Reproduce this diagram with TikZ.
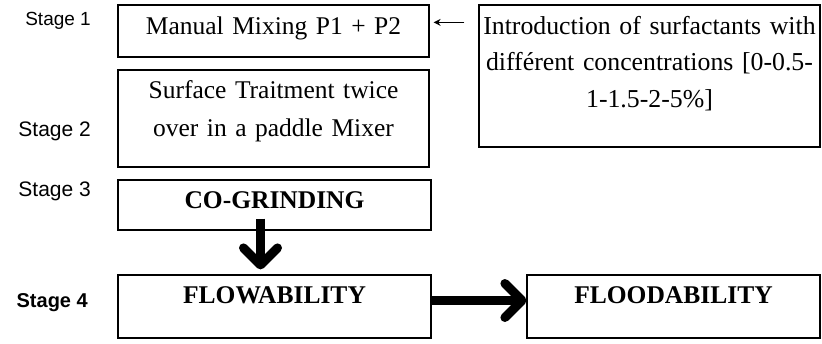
\documentclass[tikz,border=0pt]{standalone}
\usepackage{fontspec}
\setmainfont{Liberation Serif}
\newfontfamily\stagefont{Liberation Sans}
\usetikzlibrary{arrows.meta, positioning}

\begin{document}
\begin{tikzpicture}[
    x = 1pt, y = -1pt,
    stagebox/.style = {
      draw,
      rectangle,
      line width = 1.2pt,
      inner sep = 0pt,
      anchor = base,
      align = center,
      font = \fontsize{25.5}{31}\selectfont,
    },
    stagelabel/.style = {
      anchor = base east,
      inner sep = 0pt,
      font = \stagefont\fontsize{21}{25}\selectfont,
    },
    bigarrow/.style = {
      line width = 9pt,
      -{Straight Barb[round, length = 17pt, width = 34pt]},
    },
  ]
  \useasboundingbox (0,0) rectangle (822,343);

  % left column
  \node [stagebox, text width = 311pt, text height = 29pt, text depth = 23pt]
    (mixing) at (273.5,34) {Manual Mixing P1 + P2};
  \node [stagebox, text width = 311pt, text height = 28pt, text depth = 69pt,
    font = \fontsize{25.5}{38}\selectfont]
    (treatment) at (273.5,98) {Surface Traitment twice\\over in a paddle Mixer};
  \node [stagebox, text width = 313pt, text height = 28pt, text depth = 22pt,
    font = \bfseries\fontsize{25.5}{31}\selectfont]
    (grinding) at (274.5,208) {CO-GRINDING};
  \node [stagebox, text width = 313pt, text height = 28pt, text depth = 35pt,
    font = \bfseries\fontsize{25.5}{31}\selectfont]
    (flow) at (274.5,303) {FLOWABILITY};

  % right column
  \node [stagebox, text width = 341pt, text height = 29pt, text depth = 113pt,
    font = \fontsize{25.8}{36.5}\selectfont]
    (surfactant) at (649.5,34)
    {Introduction of surfactants with\\diff\'erent concentrations [0-0.5-\\1-1.5-2-5\%]};
  \node [stagebox, text width = 293pt, text height = 28pt, text depth = 35pt,
    font = \bfseries\fontsize{25.5}{31}\selectfont]
    (flood) at (673.5,303) {FLOODABILITY};

  % stage names
  \node [stagelabel, font = \stagefont\fontsize{19}{23}\selectfont] (s1) at (91,25)  {Stage 1};
  \node [stagelabel] (s2) at (91,136) {Stage 2};
  \node [stagelabel] (s3) at (91,196) {Stage 3};
  \node [stagelabel, font = \stagefont\bfseries\fontsize{20}{24}\selectfont] (s4) at (88,307) {Stage 4};

  \draw [line width = 1.2pt, -{Stealth[length = 7pt, width = 7pt]},
    shorten < = 14pt, shorten > = 4pt]
    ([yshift = -18pt]surfactant.north west) to ([yshift = -18pt]mixing.north east);
  \draw [bigarrow, shorten > = 5pt]
    ([xshift = -14pt, yshift = 12pt]grinding.south) to ([xshift = -14pt]flow.north);
  \draw [bigarrow]
    ([yshift = 6pt]flow.east) to ([yshift = 6pt]flood.west);
\end{tikzpicture}
\end{document}
